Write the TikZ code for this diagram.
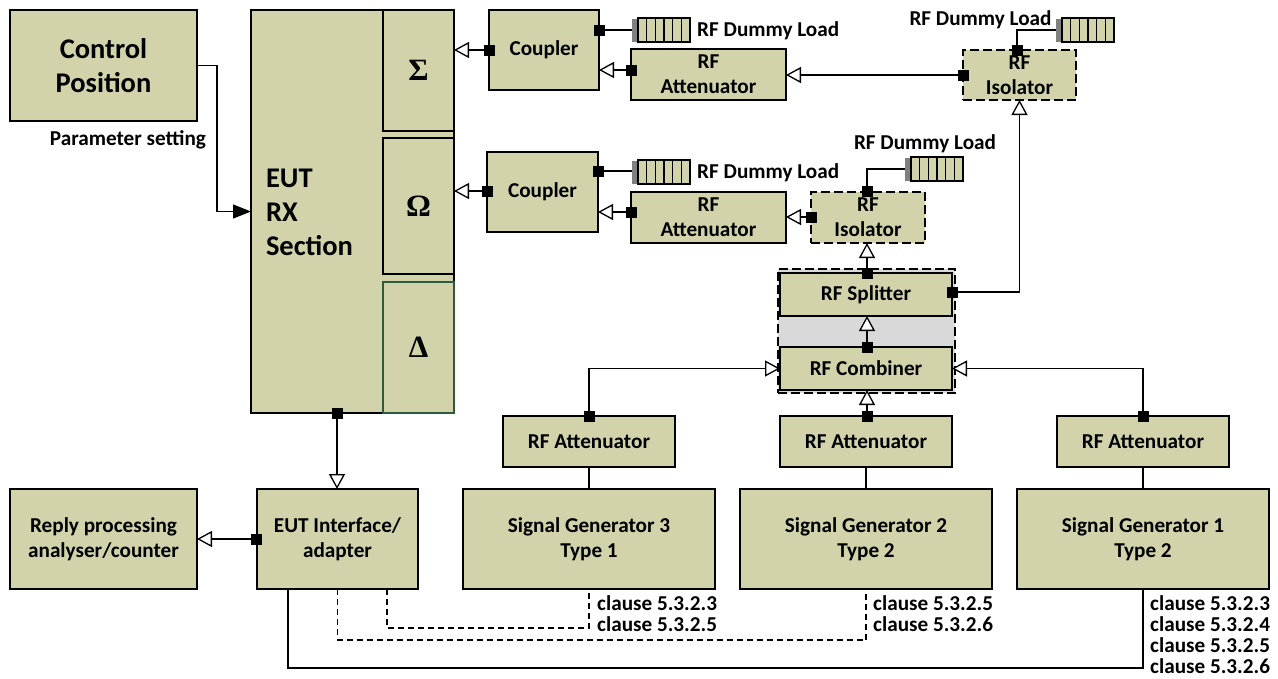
\documentclass[tikz,border=0pt]{standalone}
\usepackage{fontspec}
\setmainfont{Carlito}
\newfontfamily\greekfont{Liberation Serif}
\usepackage{xcolor}
\usetikzlibrary{arrows.meta}
\definecolor{khaki}{rgb}{0.824,0.827,0.667}
\definecolor{dgreen}{rgb}{0.17,0.36,0.25}
\definecolor{lgray}{rgb}{0.85,0.85,0.85}
\tikzset{
	box/.style={draw=black, fill=khaki, line width=1.3pt, inner sep=0pt, outer sep=0pt, align=center, font=\fontsize{21.2}{25}\selectfont\bfseries},
	bigbox/.style={box, font=\fontsize{28.5}{34}\selectfont\bfseries},
	greekbox/.style={box, font=\fontsize{31}{34}\selectfont\greekfont\bfseries},
	isobox/.style={box, dash pattern=on 9pt off 4pt},
	port/.style={fill=black, inner sep=0pt, minimum size=11pt, outer sep=0pt},
	lbl/.style={inner sep=0pt, font=\fontsize{21.2}{25}\selectfont\bfseries},
	clause/.style={lbl, anchor=west, font=\fontsize{21.2}{25}\selectfont\bfseries},
	wire/.style={line width=1.3pt},
	dwire/.style={line width=1.1pt, dash pattern=on 6pt off 4pt},
	openarrow/.style={wire, -{Triangle[open, fill=white, length=15pt, width=16pt]}},
	fullarrow/.style={wire, -{Triangle[length=18pt, width=14pt]}},
}
\newcommand{\dummyload}[3]{
	\fill[gray] (#2-6,#3-11) rectangle (#2,#3+12);
	\fill[lgray] (#2,#3-11) rectangle (#2+2,#3+12);
	\node[box, minimum width=52pt, minimum height=24pt] (#1) at (#2+26,#3) {};
	\foreach \i in {1,...,5}
		\draw[wire] (#2+8.7*\i,#3-12) -- (#2+8.7*\i,#3+12);
	\coordinate (#1in) at (#2-6,#3);
}
\begin{document}
\begin{tikzpicture}[x=1pt, y=-1pt]
	\useasboundingbox (0,0) rectangle (1278,678);
	\node[bigbox, minimum width=187pt, minimum height=111pt] (ctrl) at (103.5,65.5) {Control\\Position};
	\node[lbl] (param) at (128,140) {Parameter setting};
	\node[box, minimum width=203pt, minimum height=403pt] (eut) at (352.5,211.5) {};
	\node[bigbox, draw=none, fill=none, anchor=west, align=left] (eutlabel) at (266,212) {EUT\\RX\\Section};
	\node[greekbox, minimum width=71pt, minimum height=121pt] (sigma) at (418.5,70.5) {Σ};
	\node[greekbox, minimum width=71pt, minimum height=136pt] (omega) at (418.5,206) {Ω};
	\node[greekbox, draw=dgreen, minimum width=71pt, minimum height=131pt] (delta) at (418.5,347.5) {Δ};
	\node[box, minimum width=110pt, minimum height=80pt] (coupA) at (544,50) {Coupler};
	\node[box, minimum width=111pt, minimum height=80pt] (coupB) at (542.5,192) {Coupler};
	\node[box, minimum width=155pt, minimum height=51pt] (attA) at (708.5,74.5) {RF\\Attenuator};
	\node[box, minimum width=155pt, minimum height=51pt] (attB) at (708.5,217.5) {RF\\Attenuator};
	\node[isobox, minimum width=113pt, minimum height=50pt] (isoA) at (1019.5,75) {RF\\Isolator};
	\node[isobox, minimum width=114pt, minimum height=51pt] (isoB) at (868,217.5) {RF\\Isolator};
	\node[draw=black, fill=lgray, line width=1.1pt, dash pattern=on 9pt off 4pt, minimum width=177pt, minimum height=124pt, outer sep=0pt] (group) at (866.5,331) {};
	\node[box, minimum width=172pt, minimum height=43pt] (split) at (866,294.5) {RF Splitter};
	\node[box, minimum width=172pt, minimum height=43pt] (comb) at (866,368.5) {RF Combiner};
	\node[box, minimum width=172pt, minimum height=51pt] (attC) at (589,441.5) {RF Attenuator};
	\node[box, minimum width=172pt, minimum height=51pt] (attD) at (866,441.5) {RF Attenuator};
	\node[box, minimum width=172pt, minimum height=51pt] (attE) at (1143,441.5) {RF Attenuator};
	\node[box, minimum width=252pt, minimum height=100pt] (genC) at (589,539) {Signal Generator 3\\Type 1};
	\node[box, minimum width=252pt, minimum height=100pt] (genB) at (866,539) {Signal Generator 2\\Type 2};
	\node[box, minimum width=252pt, minimum height=100pt] (genA) at (1143,539) {Signal Generator 1\\Type 2};
	\node[box, minimum width=161pt, minimum height=100pt] (iface) at (337.5,539) {EUT Interface/\\adapter};
	\node[box, minimum width=187pt, minimum height=100pt] (reply) at (103.5,539) {Reply processing\\analyser/counter};
	% dummy loads
	\dummyload{loadA}{638}{30}
	\dummyload{loadB}{638}{172}
	\dummyload{loadC}{1062}{30}
	\dummyload{loadD}{911}{169}
	\node[lbl, anchor=west] (txtA) at (697,31) {RF Dummy Load};
	\node[lbl, anchor=west] (txtB) at (697,173) {RF Dummy Load};
	\node[lbl] (txtC) at (980.5,20) {RF Dummy Load};
	\node[lbl] (txtD) at (925,144) {RF Dummy Load};
	% ports
	\node[port] (pA) at (489,50) {};
	\node[port] (pB) at (599,30) {};
	\node[port] (pC) at (631,70) {};
	\node[port] (pD) at (963,75) {};
	\node[port] (pE) at (1017,50) {};
	\node[port] (pF) at (487,191) {};
	\node[port] (pG) at (598,171) {};
	\node[port] (pH) at (631,212) {};
	\node[port] (pI) at (811,217) {};
	\node[port] (pJ) at (867,191) {};
	\node[port] (pK) at (867,273) {};
	\node[port] (pL) at (952,292) {};
	\node[port] (pM) at (867,347) {};
	\node[port] (pN) at (867,416) {};
	\node[port] (pO) at (589,416) {};
	\node[port] (pP) at (1143,416) {};
	\node[port] (pQ) at (337,413) {};
	\node[port] (pR) at (256,539) {};
	% connectors
	\draw[fullarrow] (ctrl.east) -- ++(20,0) |- (eut.west);
	\draw[openarrow] (pA) -- (pA -| sigma.east);
	\draw[wire] (pB) -- (pB -| loadAin);
	\draw[openarrow] (pC) -- (pC -| coupA.east);
	\draw[openarrow] (pD) -- (pD -| attA.east);
	\draw[wire] (pE) |- (loadCin);
	\draw[openarrow] (pF) -- (pF -| omega.east);
	\draw[wire] (pG) -- (pG -| loadBin);
	\draw[openarrow] (pH) -- (pH -| coupB.east);
	\draw[openarrow] (pI) -- (pI -| attB.east);
	\draw[wire] (pJ) |- (loadDin);
	\draw[openarrow] (pK) -- (pK |- isoB.south);
	\draw[openarrow] (pL) -| (isoA.south);
	\draw[openarrow] (pM) -- (pM |- split.south);
	\draw[openarrow] (pN) -- (pN |- comb.south);
	\draw[openarrow] (pO) |- (comb.west);
	\draw[openarrow] (pP) |- (comb.east);
	\draw[openarrow] (pQ) -- (pQ |- iface.north);
	\draw[openarrow] (pR) -- (pR -| reply.east);
	\draw[wire] (attC) -- (genC);
	\draw[wire] (attD) -- (genB);
	\draw[wire] (attE) -- (genA);
	\draw[dwire] (iface.south -| 387,0) -- (387,628) -| (genC.south);
	\draw[dwire] (iface.south) -- (337.5,640) -| (genB.south);
	\draw[wire] (iface.south -| 288,0) -- (288,668) -| (genA.south);
	% clause labels
	\node[clause] (cA) at (597,603) {clause 5.3.2.3};
	\node[clause] (cB) at (597,624) {clause 5.3.2.5};
	\node[clause] (cC) at (873,603) {clause 5.3.2.5};
	\node[clause] (cD) at (873,624) {clause 5.3.2.6};
	\node[clause] (cE) at (1150,603) {clause 5.3.2.3};
	\node[clause] (cF) at (1150,624) {clause 5.3.2.4};
	\node[clause] (cG) at (1150,645) {clause 5.3.2.5};
	\node[clause] (cH) at (1150,666) {clause 5.3.2.6};
\end{tikzpicture}
\end{document}
